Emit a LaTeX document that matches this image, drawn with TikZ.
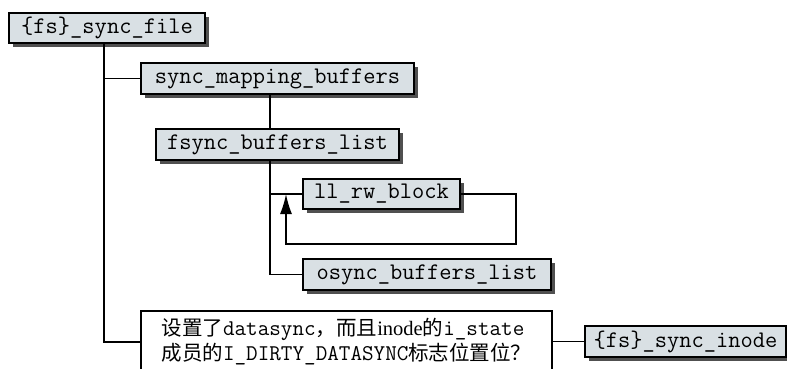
\documentclass[tikz,border=0pt]{standalone}
\usepackage{fontspec}
\setmainfont{Liberation Serif}
\newfontfamily\cjk{Noto Sans CJK SC}
\usetikzlibrary{arrows.meta,shadows}
\definecolor{boxfill}{RGB}{217,224,228}
\definecolor{shadowc}{RGB}{80,80,80}
\newcommand{\dtt}[1]{{\fontsize{22.5}{25}\selectfont\ttfamily #1}}
\begin{document}
\begin{tikzpicture}[x=1pt,y=-1pt,
  fnbox/.style={draw=black,line width=1.1pt,fill=boxfill,inner sep=0pt,
    font=\fontsize{23.8}{26}\selectfont\ttfamily,
    drop shadow={shadow xshift=4pt,shadow yshift=-4pt,fill=shadowc,opacity=1}},
  conn/.style={line width=1.6pt,draw=black},
  decbox/.style={draw=black,line width=1.1pt,fill=white,inner sep=0pt,align=left,
    font=\fontsize{20.5}{25}\selectfont}]
\clip (0,0) rectangle (787,368);
\fill[white] (0,0) rectangle (787,368);
% trunk coordinates
\coordinate (t1) at (104,0);
\coordinate (t2) at (270,0);
\coordinate (t3) at (286,0);
\coordinate (t4) at (516,0);
\coordinate (lb) at (0,244);
% nodes
\node[fnbox,minimum width=196pt,minimum height=30pt] (b1) at (107,28) {\{fs\}\_sync\_file};
\node[fnbox,minimum width=273pt,minimum height=31pt] (b2) at (277.5,78.5) {sync\_mapping\_buffers};
\node[fnbox,minimum width=243pt,minimum height=31pt] (b3) at (277.5,144.5) {fsync\_buffers\_list};
\node[fnbox,minimum width=157pt,minimum height=30pt] (b4) at (381.5,194) {ll\_rw\_block};
\node[fnbox,minimum width=248pt,minimum height=31pt] (b5) at (427,274.5) {osync\_buffers\_list};
\node[decbox,minimum width=411pt,minimum height=62pt] (dec) at (346.5,342)
  {{\cjk 设置了}\dtt{datasync}{\cjk ，而且}inode{\cjk 的}\dtt{i\_state}\\
   {\cjk 成员的}\dtt{I\_DIRTY\_DATASYNC}{\cjk 标志位置位？}};
\node[fnbox,minimum width=201pt,minimum height=31pt] (b6) at (685.5,341.5) {\{fs\}\_sync\_inode};
% connectors
\draw[conn] (b1.south -| t1) |- (dec.west);
\draw[conn] (t1 |- b2.west) -- (b2.west);
\draw[conn] (b2.south -| t2) -- (b3.north -| t2);
\draw[conn] (b3.south -| t2) |- (b5.west);
\draw[conn] (t2 |- b4.west) -- (b4.west);
\draw[conn,-{Latex[length=20pt,width=12pt]}] (b4.east) -| (t4 |- lb) -| (t3 |- b4.west);
\draw[conn] (dec.east |- b6.west) -- (b6.west);
\end{tikzpicture}
\end{document}
